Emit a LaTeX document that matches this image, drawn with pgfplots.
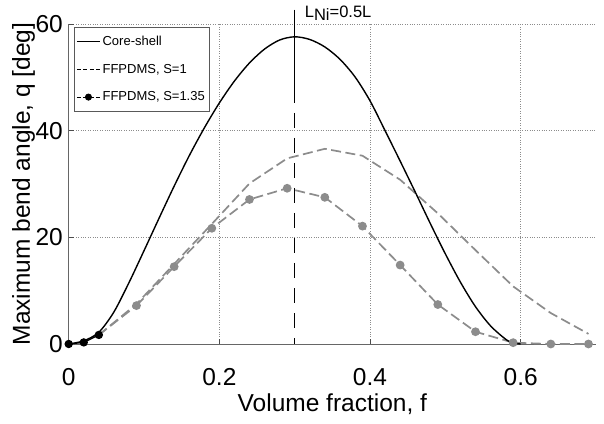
\documentclass[border=0pt]{standalone}
\usepackage{pgfplots}
\pgfplotsset{compat=1.18}
\usepackage{fontspec}
\setmainfont{Liberation Sans}
\definecolor{mygray}{RGB}{140,140,140}
\begin{document}
\begin{tikzpicture}
\begin{axis}[name=ax, scale only axis, width=527.3pt, height=320pt,
  xmin=0, xmax=0.7, ymin=0, ymax=60,
  axis x line*=bottom, axis y line*=left,
  axis line style={black!60, line width=0.8pt},
  xtick={0,0.2,0.4,0.6}, ytick={0,20,40,60},
  xticklabels={0,0.2,0.4,0.6},
  tick align=inside, major tick length=5pt, tick style={black!70, line width=0.6pt},
  grid=major, grid style={dotted, black!45, line width=0.6pt},
  /pgf/number format/assume math mode=true,
  ticklabel style={font=\fontsize{24.5}{29}\selectfont},
  xticklabel style={anchor=base, inner sep=0pt, yshift=-41.7pt},
  yticklabel style={anchor=east, inner sep=0pt, xshift=-5.7pt},
  xlabel={Volume fraction, f},
  ylabel={Maximum bend angle, q [deg]},
  label style={font=\fontsize{24.5}{29}\selectfont},
  xlabel style={at={(rel axis cs:0.5,0)}, anchor=base, inner sep=0pt, yshift=-67.7pt},
  ylabel style={at={(rel axis cs:0,0.5)}, anchor=base, inner sep=0pt, yshift=38.7pt},
  clip=false,
  legend cell align=left,
  legend style={at={(rel axis cs:0,1)}, anchor=north west, xshift=5.3pt, yshift=-3pt,
    draw=black!65, fill=white, line width=0.6pt, inner xsep=2pt, inner ysep=7pt,
    font=\fontsize{13}{15}\selectfont, row sep=13pt},
  legend image code/.code={\draw[#1] plot coordinates {(0pt,0pt) (11.5pt,0pt) (23pt,0pt)};},
]
% legend images
\addlegendimage{black, line width=1.3pt}
\addlegendentry{Core-shell}
\addlegendimage{black, line width=1pt, dash pattern=on 4pt off 2.5pt}
\addlegendentry{FFPDMS, S=1}
\addlegendimage{black, line width=1pt, dash pattern=on 4pt off 2.5pt, mark=*, mark size=3pt, mark repeat=2, mark phase=2, mark options={solid}}
\addlegendentry{FFPDMS, S=1.35}

% FFPDMS S=1
\addplot[forget plot, mygray, line width=1.7pt, dash pattern=on 10pt off 4.5pt] coordinates {
(0.04,1.7)(0.09,7.5)(0.14,15.0)(0.19,22.5)(0.24,30.1)(0.29,34.8)(0.34,36.6)(0.39,35.3)
(0.44,30.8)(0.49,24.5)(0.54,17.6)(0.59,10.8)(0.64,5.8)(0.69,1.9)};
% FFPDMS S=1.35
\addplot[forget plot, mygray, line width=1.7pt, dash pattern=on 10pt off 4.5pt, mark=*, mark size=3.5pt, mark options={solid, fill=mygray, draw=mygray}] coordinates {
(0.09,7.2)(0.14,14.5)(0.19,21.7)(0.24,27.1)(0.29,29.2)(0.34,27.5)(0.39,22.1)
(0.44,14.8)(0.49,7.4)(0.54,2.3)(0.59,0.25)(0.64,0)(0.69,0)};
\addplot[forget plot, mygray, line width=1.7pt, dash pattern=on 10pt off 4.5pt] coordinates {(0.04,1.7)(0.09,7.2)};
% initial black segment
\addplot[forget plot, black, line width=1.3pt, mark=*, mark size=3.5pt] coordinates {(0,0)(0.02,0.3)(0.04,1.7)};
% Core-shell
\addplot[forget plot, black, line width=1.4pt, smooth] coordinates {
(0,0)(0.02,0.6)(0.04,2.2)(0.06,6.0)(0.08,11.5)(0.10,17.5)(0.12,23.6)(0.14,29.6)
(0.16,35.3)(0.18,40.5)(0.20,45.2)(0.22,49.3)(0.24,52.7)(0.26,55.3)(0.28,57.0)
(0.30,57.6)(0.32,57.1)(0.34,55.7)(0.36,53.4)(0.38,50.1)(0.40,45.6)(0.42,40.0)
(0.44,34.3)(0.46,28.5)(0.48,22.6)(0.50,16.9)(0.52,11.6)(0.54,7.0)(0.56,3.4)
(0.58,0.9)(0.59,0.2)(0.60,0)};
% vertical line L_Ni = 0.5L
\addplot[forget plot, black, line width=1.3pt] coordinates {(0.3,62.7)(0.3,48)};
\addplot[forget plot, black, line width=1.3pt, dash pattern=on 15pt off 10pt] coordinates {(0.3,48)(0.3,0)};
\node[anchor=base west, inner sep=0pt, font=\fontsize{16.5}{18}\selectfont, xshift=10pt] at (axis cs:0.3,61.3) {L\raisebox{-3.5pt}{Ni}=0.5L};
\end{axis}
\pgfresetboundingbox
\path ([shift={(-68.7pt,-80pt)}]ax.south west) rectangle ([shift={(8pt,24pt)}]ax.north east);
\end{tikzpicture}
\end{document}
